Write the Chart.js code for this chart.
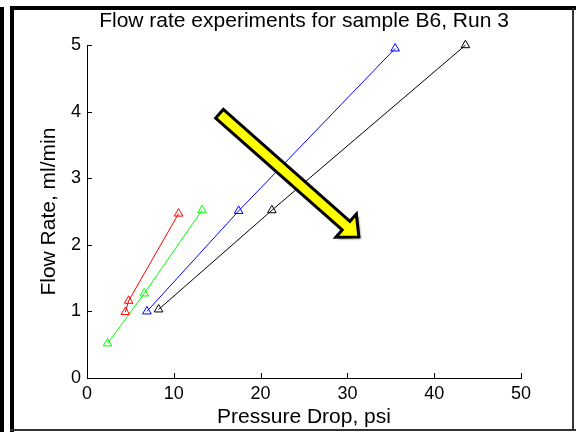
<!DOCTYPE html>
<html>
<head>
<meta charset="utf-8">
<script src="https://cdn.jsdelivr.net/npm/chart.js@4/dist/chart.umd.min.js"></script>
<style>
  html, body { margin: 0; padding: 0; background: #ffffff; }
  #wrap { width: 576px; height: 432px; position: relative; }
</style>
</head>
<body>
<div id="wrap"><canvas id="c" width="576" height="432"></canvas></div>
<script>
// ---- data ----
const titleText = "Flow rate experiments for sample B6, Run 3";
const xTitle = "Pressure Drop, psi";
const yTitle = "Flow Rate, ml/min";

const redX   = [4.42, 4.80, 10.55];
const redY   = [0.99, 1.16, 2.47];
const greenX = [2.37, 6.60, 13.25];
const greenY = [0.52, 1.27, 2.52];
const blueX  = [6.90, 17.47, 35.50];
const blueY  = [1.00, 2.51, 4.95];
const blackX = [8.25, 21.30, 43.60];
const blackY = [1.03, 2.52, 5.00];

const xTicks = [0, 10, 20, 30, 40, 50];
const yTicks = [0, 1, 2, 3, 4, 5];

// decorative arrow annotation (data units: start, tip)
const arrowStart = [15.09, 3.99];
const arrowTip   = [31.49, 2.10];

function pts(xs, ys) { return xs.map((x, i) => ({ x: x, y: ys[i] })); }

function series(label, xs, ys, color) {
  return {
    label: label,
    data: pts(xs, ys),
    showLine: true,
    clip: false,
    borderColor: color,
    borderWidth: 1,
    backgroundColor: 'rgba(0,0,0,0)',
    pointStyle: 'triangle',
    pointRadius: 5,
    pointBorderWidth: 1,
    pointBorderColor: color,
    pointBackgroundColor: 'rgba(0,0,0,0)',
    fill: false,
    tension: 0
  };
}

const FONT = "'Liberation Sans', Arial, sans-serif";

const inwardTicks = {
  id: 'inwardTicks',
  afterDatasetsDraw(chart) {
    const ctx = chart.ctx;
    const xs = chart.scales.x, ys = chart.scales.y;
    const a = chart.chartArea;
    ctx.save();
    ctx.strokeStyle = '#000';
    ctx.lineWidth = 1;
    ctx.beginPath();
    xTicks.forEach(v => {
      const px = Math.round(xs.getPixelForValue(v)) + 0.5;
      ctx.moveTo(px, a.bottom);
      ctx.lineTo(px, a.bottom - 5);
    });
    yTicks.forEach(v => {
      const py = Math.round(ys.getPixelForValue(v)) + 0.5;
      ctx.moveTo(a.left, py);
      ctx.lineTo(a.left + 5, py);
    });
    ctx.stroke();
    ctx.restore();
  }
};

const arrowPlugin = {
  id: 'bigArrow',
  afterDatasetsDraw(chart) {
    const ctx = chart.ctx;
    const xs = chart.scales.x, ys = chart.scales.y;
    const sx = xs.getPixelForValue(arrowStart[0]), sy = ys.getPixelForValue(arrowStart[1]);
    const tx = xs.getPixelForValue(arrowTip[0]),   ty = ys.getPixelForValue(arrowTip[1]);
    const dx = tx - sx, dy = ty - sy;
    const len = Math.hypot(dx, dy);
    const ux = dx / len, uy = dy / len;
    const nx = -uy, ny = ux;
    const shaftHalf = 5.8, headHalf = 15.5, headLen = 17;
    const inset = 2;
    const s0x = sx + ux * inset, s0y = sy + uy * inset;
    const t0x = tx - ux * inset, t0y = ty - uy * inset;
    const bx = t0x - ux * headLen, by = t0y - uy * headLen;
    const P = [
      [s0x + nx * shaftHalf, s0y + ny * shaftHalf],
      [bx + nx * shaftHalf, by + ny * shaftHalf],
      [bx + nx * headHalf, by + ny * headHalf],
      [t0x, t0y],
      [bx - nx * headHalf, by - ny * headHalf],
      [bx - nx * shaftHalf, by - ny * shaftHalf],
      [s0x - nx * shaftHalf, s0y - ny * shaftHalf]
    ];
    ctx.save();
    ctx.beginPath();
    P.forEach((p, i) => i ? ctx.lineTo(p[0], p[1]) : ctx.moveTo(p[0], p[1]));
    ctx.closePath();
    ctx.shadowColor = 'rgba(0,0,0,0.55)';
    ctx.shadowOffsetX = 2;
    ctx.shadowOffsetY = 2;
    ctx.shadowBlur = 2;
    ctx.fillStyle = '#ffff00';
    ctx.fill();
    ctx.shadowColor = 'rgba(0,0,0,0)';
    ctx.lineJoin = 'miter';
    ctx.lineWidth = 3;
    ctx.strokeStyle = '#000';
    ctx.stroke();
    ctx.restore();
  }
};

const framePlugin = {
  id: 'frame',
  afterDraw(chart) {
    const ctx = chart.ctx;
    ctx.save();
    ctx.fillStyle = '#000';
    ctx.fillRect(0, 7, 4, 425);      // outer left stripe
    ctx.fillRect(10, 6, 4, 426);     // inner left stripe
    ctx.fillRect(10, 6, 566, 4);     // top stripe
    ctx.fillStyle = '#333';
    ctx.fillRect(572, 8, 2, 423);    // right edge
    ctx.fillRect(10, 429, 566, 2);   // bottom edge
    ctx.restore();
  }
};

new Chart(document.getElementById('c'), {
  type: 'scatter',
  data: {
    datasets: [
      series('red', redX, redY, '#ff0000'),
      series('green', greenX, greenY, '#00ff00'),
      series('blue', blueX, blueY, '#0000ff'),
      series('black', blackX, blackY, '#000000')
    ]
  },
  options: {
    responsive: false,
    animation: false,
    devicePixelRatio: 1,
    layout: { padding: { left: 0, right: 55, top: 0, bottom: 0 } },
    plugins: {
      legend: { display: false },
      tooltip: { enabled: false },
      title: {
        display: true,
        fullSize: false,
        text: titleText,
        color: '#000',
        font: { family: FONT, size: 21, weight: 'normal', lineHeight: 1.2 },
        padding: { top: 9, bottom: 11 },
        align: 'center'
      }
    },
    scales: {
      x: {
        type: 'linear',
        min: 0, max: 50,
        afterFit: s => { s.height = 54; },
        afterBuildTicks: s => { s.ticks = xTicks.map(v => ({ value: v })); },
        grid: { display: false, drawTicks: false },
        border: { display: true, color: '#000', width: 1 },
        ticks: { color: '#000', padding: 5, font: { family: FONT, size: 18 }, maxRotation: 0 },
        title: {
          display: true, text: xTitle, color: '#000',
          font: { family: FONT, size: 21, lineHeight: 1.2 },
          padding: { top: 0, bottom: 2 }
        }
      },
      y: {
        type: 'linear',
        min: 0, max: 5,
        afterFit: s => { s.width = 87; },
        afterBuildTicks: s => { s.ticks = yTicks.map(v => ({ value: v })); },
        grid: { display: false, drawTicks: false },
        border: { display: true, color: '#000', width: 1 },
        ticks: { color: '#000', padding: 6, font: { family: FONT, size: 18 } },
        title: {
          display: true, text: yTitle, color: '#000',
          font: { family: FONT, size: 21, lineHeight: 1.2 },
          padding: { top: 37, bottom: 0 }
        }
      }
    }
  },
  plugins: [inwardTicks, arrowPlugin, framePlugin]
});
</script>
</body>
</html>
